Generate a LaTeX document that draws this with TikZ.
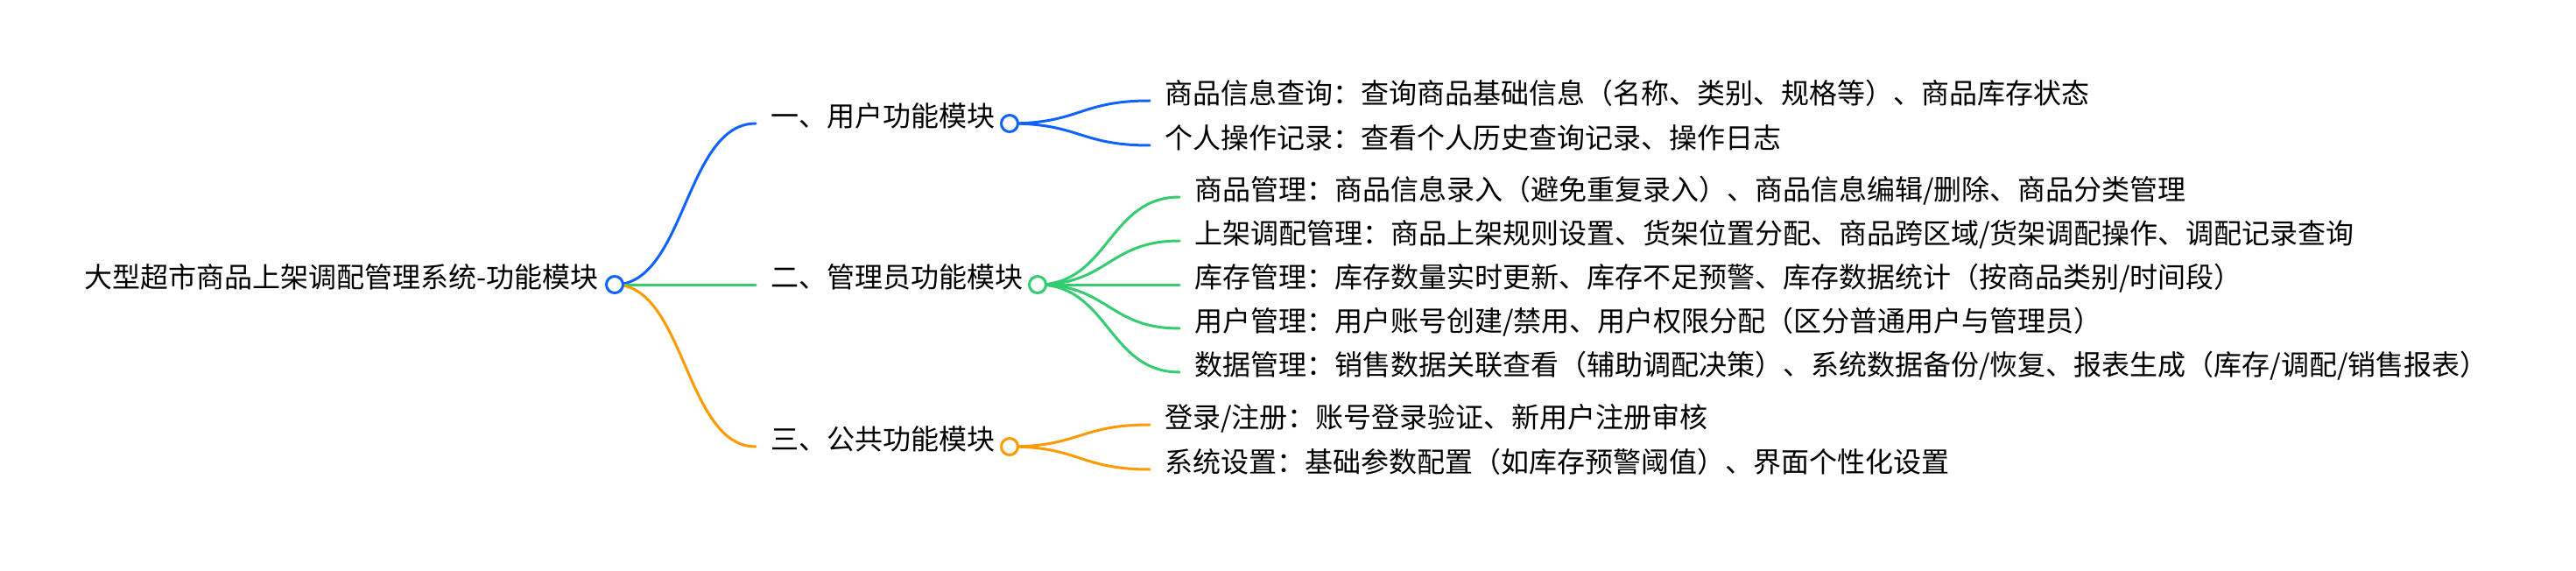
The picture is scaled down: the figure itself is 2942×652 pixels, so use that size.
\documentclass[tikz,border=0pt]{standalone}
\usepackage{fontspec}
\setmainfont{Noto Sans CJK SC}
\usetikzlibrary{calc}
\pgfdeclarelayer{back}
\pgfdeclarelayer{bg}
\pgfsetlayers{back,bg,main}
\definecolor{cblue}{HTML}{1062FF}
\definecolor{cgreen}{HTML}{33CC6E}
\definecolor{corange}{HTML}{FF9900}
\tikzset{
  txt/.style={inner xsep=17pt, inner ysep=0pt, anchor=west,
    font=\fontsize{32}{36}\selectfont, text height=0.88em, text depth=0.12em},
  roottxt/.style={txt, inner xsep=0pt, anchor=east},
  dot/.style={circle, line width=3pt, fill=white, minimum size=19pt, inner sep=0pt},
  link/.style={line width=3pt, line cap=round,
    to path={let \p1=(\tikztostart), \p2=(\tikztotarget) in
      .. controls ({(\x1+\x2)/2},\y1) and ({(\x1+\x2)/2},\y2) .. (\tikztotarget)}},
}
\begin{document}
\begin{tikzpicture}[x=1pt,y=-1pt]
\begin{pgfonlayer}{back}
\fill[white] (0,0) rectangle (2942,652);
\end{pgfonlayer}
\useasboundingbox (0,0) rectangle (2942,652);

% root
\node[roottxt] (t0) at (684,325) {大型超市商品上架调配管理系统-功能模块};
\node[dot, draw=cblue] (c0) at (702,325) {};

% level 1
\node[txt] (t1) at (863,141) {一、用户功能模块};
\node[dot, draw=cblue] (c1) at (1153,141) {};
\node[txt] (t2) at (863,325) {二、管理员功能模块};
\node[dot, draw=cgreen] (c2) at (1185,325) {};
\node[txt] (t3) at (863,510) {三、公共功能模块};
\node[dot, draw=corange] (c3) at (1153,510) {};

% leaves of 1
\node[txt] (l11) at (1313,115) {商品信息查询：查询商品基础信息（名称、类别、规格等）、商品库存状态};
\node[txt] (l12) at (1313,166) {个人操作记录：查看个人历史查询记录、操作日志};

% leaves of 2
\node[txt] (l21) at (1347,225) {商品管理：商品信息录入（避免重复录入）、商品信息编辑/删除、商品分类管理};
\node[txt] (l22) at (1347,275) {上架调配管理：商品上架规则设置、货架位置分配、商品跨区域/货架调配操作、调配记录查询};
\node[txt] (l23) at (1347,325) {库存管理：库存数量实时更新、库存不足预警、库存数据统计（按商品类别/时间段）};
\node[txt] (l24) at (1347,375) {用户管理：用户账号创建/禁用、用户权限分配（区分普通用户与管理员）};
\node[txt] (l25) at (1347,425) {数据管理：销售数据关联查看（辅助调配决策）、系统数据备份/恢复、报表生成（库存/调配/销售报表）};

% leaves of 3
\node[txt] (l31) at (1313,485) {登录/注册：账号登录验证、新用户注册审核};
\node[txt] (l32) at (1313,536) {系统设置：基础参数配置（如库存预警阈值）、界面个性化设置};

\begin{pgfonlayer}{bg}
\draw[link, cblue] (c0.center) to (t1.west);
\draw[link, cgreen] (c0.center) to (t2.west);
\draw[link, corange] (c0.center) to (t3.west);
\draw[link, cblue] (c1.center) to (l11.west);
\draw[link, cblue] (c1.center) to (l12.west);
\draw[link, cgreen] (c2.center) to (l21.west);
\draw[link, cgreen] (c2.center) to (l22.west);
\draw[link, cgreen] (c2.center) to (l23.west);
\draw[link, cgreen] (c2.center) to (l24.west);
\draw[link, cgreen] (c2.center) to (l25.west);
\draw[link, corange] (c3.center) to (l31.west);
\draw[link, corange] (c3.center) to (l32.west);
\end{pgfonlayer}
\end{tikzpicture}
\end{document}
